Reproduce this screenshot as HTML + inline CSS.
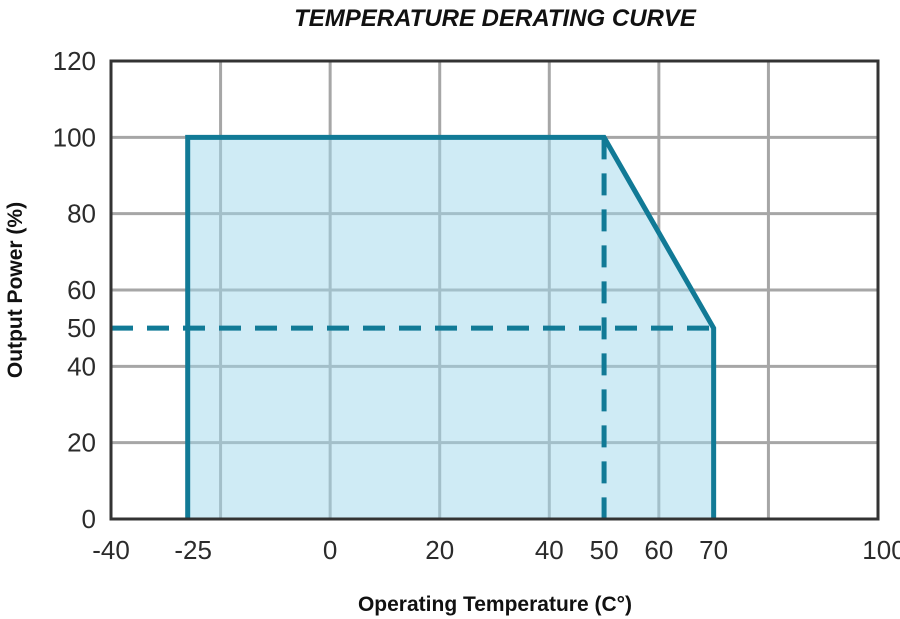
<!DOCTYPE html>
<html><head><meta charset="utf-8"><style>
html,body{margin:0;padding:0;background:#fff;}
svg{display:block;font-family:"Liberation Sans",sans-serif;}
</style></head><body>
<svg id="chart" width="900" height="619" viewBox="0 0 900 619">
<text x="495" y="26" text-anchor="middle" font-size="24" font-weight="bold" font-style="italic" fill="#111">TEMPERATURE DERATING CURVE</text>
<g id="grid"></g>
<g id="area"></g>
<g id="xt"></g>
<g id="yt"></g>
<text x="495" y="611" text-anchor="middle" font-size="21" font-weight="bold" fill="#111">Operating Temperature (C°)</text>
<text transform="translate(22,290) rotate(-90)" text-anchor="middle" font-size="21" font-weight="bold" fill="#111">Output Power (%)</text>
</svg>
<script>
const curveTemps=[-26,-26,50,70,70];
const curvePower=[0,100,100,50,0];
const xGrid=[-20,0,20,40,60,80];
const yGrid=[20,40,60,80,100];
const xTickLabels=[-40,-25,0,20,40,50,60,70,100];
const yTickLabels=[0,20,40,50,60,80,100,120];
const refTemp=[50];
const refPower=[50];
const NS="http://www.w3.org/2000/svg";
const X0=111,X1=878,Y0=519,Y1=61;
const xs=v=>X0+(v+40)/140*(X1-X0);
const ys=v=>Y0-v/120*(Y0-Y1);
function mk(tag,attrs,parent){const e=document.createElementNS(NS,tag);for(const k in attrs)e.setAttribute(k,attrs[k]);parent.appendChild(e);return e;}
const grid=document.getElementById('grid'),area=document.getElementById('area');
xGrid.forEach(v=>{const l=mk('line',{x1:xs(v),x2:xs(v),y1:Y1,y2:Y0,stroke:'#a6a6a6','stroke-width':3},grid);

});
yGrid.forEach(v=>{const l=mk('line',{x1:X0,x2:X1,y1:ys(v),y2:ys(v),stroke:'#a6a6a6','stroke-width':3},grid);

});
const pts=curveTemps.map((t,i)=>xs(t)+','+ys(curvePower[i])).join(' ');
const fill=mk('polygon',{points:pts,fill:'rgba(160,215,235,0.5)',stroke:'none'},area);


const dh=mk('line',{x1:X0,x2:xs(70),y1:ys(refPower[0]),y2:ys(refPower[0]),stroke:'#117a96','stroke-width':5,'stroke-dasharray':'22 14'},area);


const dv=mk('line',{x1:xs(refTemp[0]),x2:xs(refTemp[0]),y1:ys(100),y2:Y0,stroke:'#117a96','stroke-width':5,'stroke-dasharray':'22 14'},area);


const cl=mk('polyline',{points:pts,fill:'none',stroke:'#117a96','stroke-width':5,'stroke-linejoin':'miter'},area);


const fr=mk('rect',{x:X0,y:Y1,width:X1-X0,height:Y0-Y1,fill:'none',stroke:'#333','stroke-width':3},area);


const xt=document.getElementById('xt'),yt=document.getElementById('yt');
xTickLabels.forEach(v=>{const t=mk('text',{x:xs(v)+(v===100?6:0),y:559,'text-anchor':'middle','font-size':26,fill:'#2b2b2b'},xt);t.textContent=v;

});
yTickLabels.forEach(v=>{const t=mk('text',{x:96,y:ys(v)+9,'text-anchor':'end','font-size':26,fill:'#2b2b2b'},yt);t.textContent=v;

});
</script>
</body></html>
